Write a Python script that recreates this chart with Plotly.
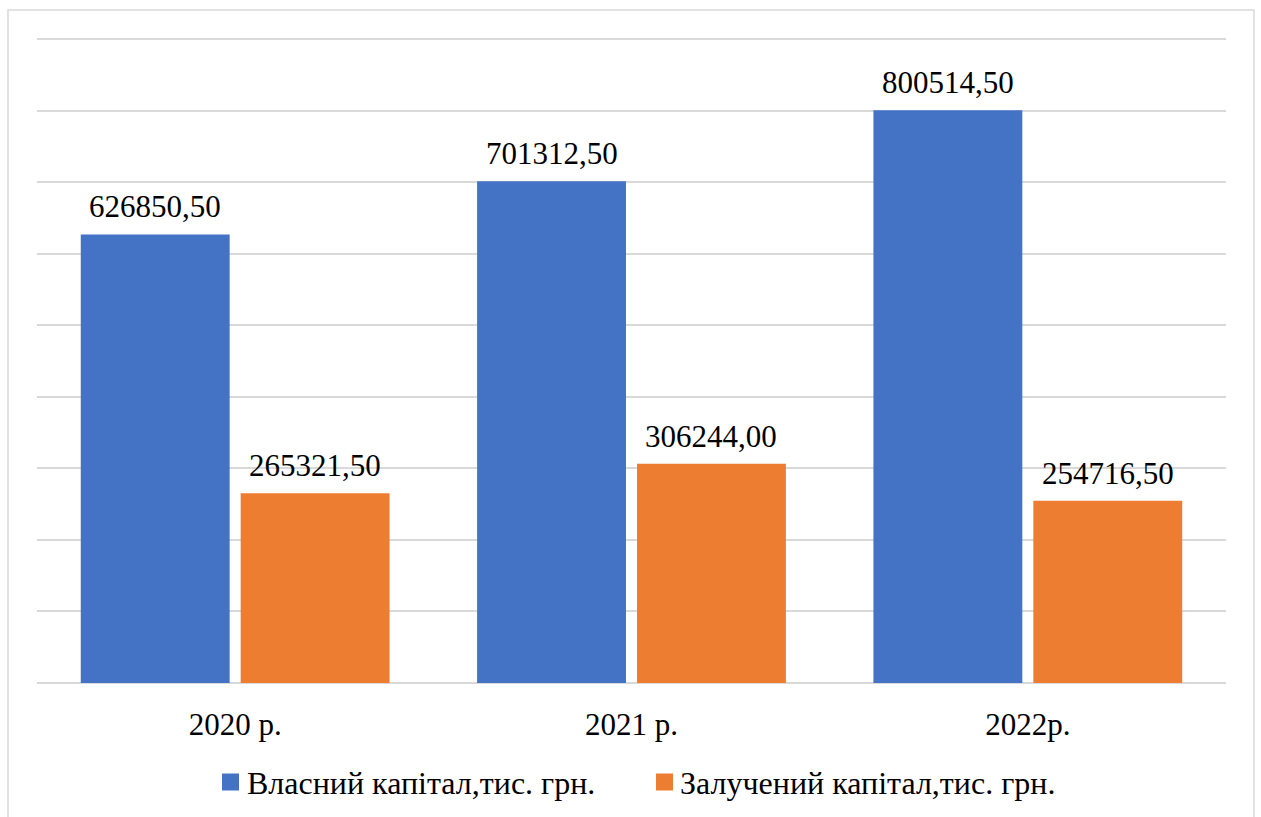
import plotly.graph_objects as go

years = ["2020 р.", "2021 р.", "2022р."]
own_capital = [626850.50, 701312.50, 800514.50]
borrowed_capital = [265321.50, 306244.00, 254716.50]
series_names = ["Власний капітал,тис. грн.", "Залучений капітал,тис. грн."]
colors = ["#4472C4", "#ED7D31"]

SERIF = "Liberation Serif"


def fmt(v):
    return f"{v:.2f}".replace(".", ",")


def serif(txt):
    return f'<span style="font-family:{SERIF}">{txt}</span>'


W, H = 1261, 817
# plot box in pixels (left, right, top of 900000 line, baseline)
PX_L, PX_R, PX_TOP, PX_BASE = 37, 1226, 39, 683
Y_TOP_GRID, Y_MAX = 900000, 910000
px_per_unit = (PX_BASE - PX_TOP) / Y_TOP_GRID
px_plot_top = PX_BASE - Y_MAX * px_per_unit
pw = PX_R - PX_L

BARGAP, GROUPGAP = 0.193, 0.069


def fx(x):
    return x / W


def fy(y):
    return 1 - y / H


fig = go.Figure()
for name, vals, col in zip(series_names, [own_capital, borrowed_capital], colors):
    fig.add_trace(go.Bar(
        x=years, y=vals, name=name, showlegend=False,
        marker=dict(color=col, line=dict(width=0)),
    ))

# value labels above each bar, offset to the bar's slot inside its group
slot_px = pw / len(years) * (1 - BARGAP) / 2
annotations = []
for k, vals in enumerate([own_capital, borrowed_capital]):
    shift = (k - 0.5) * slot_px
    for yr, v in zip(years, vals):
        annotations.append(dict(
            x=yr, y=v, xref="x", yref="y", text=serif(fmt(v)), showarrow=False,
            xshift=shift, yanchor="bottom", yshift=8,
            font=dict(size=31, family=SERIF, color="#000000"),
        ))

# legend row: colour square followed by the series name
legend_items = [(222, 245), (656, 678)]
LEG_Y, SQ = 782, 17
shapes = [dict(
    type="rect", xref="paper", yref="paper",
    x0=fx(8), x1=fx(1254), y0=fy(840), y1=fy(10),
    line=dict(color="#d9d9d9", width=1.5), fillcolor="rgba(0,0,0,0)",
    layer="below",
)]
for (sq_x, txt_x), name, col in zip(legend_items, series_names, colors):
    shapes.append(dict(
        type="rect", xref="paper", yref="paper",
        x0=fx(sq_x), x1=fx(sq_x + SQ),
        y0=fy(LEG_Y + SQ / 2), y1=fy(LEG_Y - SQ / 2),
        line=dict(width=0), fillcolor=col,
    ))
    annotations.append(dict(
        x=fx(txt_x), y=fy(LEG_Y + 1), xref="paper", yref="paper",
        xanchor="left", yanchor="middle", showarrow=False,
        text=serif(name), font=dict(size=32, family=SERIF, color="#000000"),
    ))

fig.update_layout(
    width=W, height=H,
    margin=dict(l=0, r=0, t=0, b=0),
    paper_bgcolor="white", plot_bgcolor="white",
    barmode="group", bargap=BARGAP, bargroupgap=GROUPGAP,
    font=dict(family=SERIF, size=30, color="#000000"),
    showlegend=False,
    xaxis=dict(
        domain=[fx(PX_L), fx(PX_R)],
        showgrid=False, showline=False, zeroline=False,
        ticks="outside", ticklen=14, tickcolor="rgba(0,0,0,0)",
        tickfont=dict(size=31, family=SERIF, color="#000000"),
    ),
    yaxis=dict(
        domain=[fy(PX_BASE), fy(px_plot_top)],
        range=[0, Y_MAX], dtick=100000, tick0=0,
        showgrid=True, gridcolor="#d9d9d9", gridwidth=1.5,
        zeroline=True, zerolinecolor="#d9d9d9", zerolinewidth=1.5,
        showticklabels=False, showline=False,
    ),
    annotations=annotations,
    shapes=shapes,
)

fig.write_html("out.html")
